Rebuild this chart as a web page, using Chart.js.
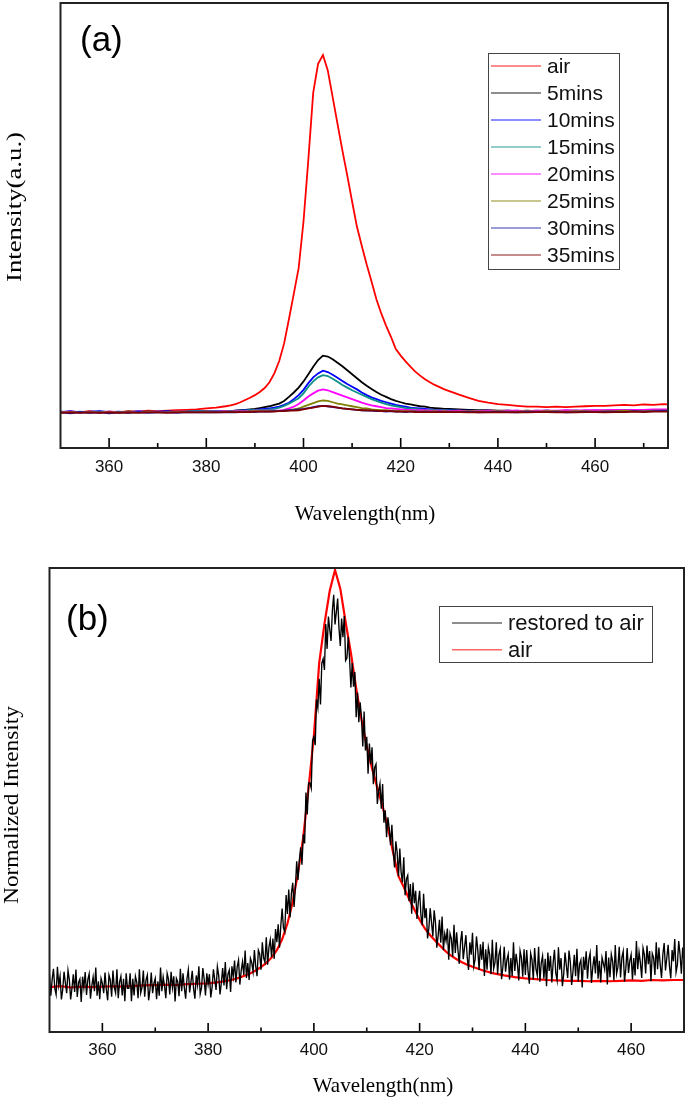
<!DOCTYPE html>
<html><head><meta charset="utf-8">
<script src="https://cdn.jsdelivr.net/npm/chart.js@4.4.1/dist/chart.umd.min.js"></script>
<style>
html,body{margin:0;padding:0;background:#fff;width:685px;height:1097px;overflow:hidden}
#wa{position:absolute;left:0;top:0;width:685px;height:540px}
#wb{position:absolute;left:0;top:540px;width:685px;height:557px}
canvas{display:block}
</style></head><body>
<div id="wa"><canvas id="ca" width="685" height="540"></canvas></div>
<div id="wb"><canvas id="cb" width="685" height="557"></canvas></div>
<script>
// ---------- Panel (a) data ----------
const wlA = [350,352,354,356,358,360,362,364,366,368,370,372,374,376,378,380,382,384,
 385,386,387,388,389,390,391,392,393,394,395,396,397,398,399,400,401,402,403,404,
 405,406,407,408,409,410,411,412,413,414,415,416,417,418,419,420,421,422,423,424,
 425,426,427,428,429,430,
 432,434,436,438,440,442,444,446,448,450,452,454,456,458,460,462,464,466,468,470,472,474,475];
const labelsA = ['air','5mins','10mins','15mins','20mins','25mins','30mins','35mins'];
const colorsA = ['#ff0000','#000000','#0000ff','#0b8f86','#ff00ff','#808000','#2020a0','#800000'];
const air = [8.2,8.0,8.1,8.3,8.0,8.2,8.1,8.3,8.2,8.4,8.3,8.4,8.5,8.6,8.7,8.9,9.1,9.4,
 9.6,9.9,10.3,10.8,11.3,11.9,12.6,13.5,14.8,16.8,
 19.6,23.5,29.0,34.7,40.5,51.0,65.0,80.0,86.5,88.5,
 85.0,79.0,73.0,67.0,61.4,55.5,49.8,45.5,41.3,37.5,
 33.5,30.3,27.5,25.0,22.3,20.8,19.5,18.3,17.2,16.3,
 15.5,14.8,14.2,13.7,13.2,12.8,
 12.0,11.3,10.6,10.2,9.9,9.7,9.5,9.3,9.3,9.2,9.3,9.2,9.3,9.4,9.5,9.5,9.6,9.7,9.6,9.8,9.7,9.9,9.8];
const m5 = [8.0,8.2,8.1,8.0,8.2,8.1,8.0,8.2,8.1,8.2,8.1,8.2,8.1,8.2,8.2,8.3,8.2,8.3,
 8.3,8.4,8.5,8.6,8.7,8.8,9.0,9.2,9.4,9.7,
 10.0,10.6,11.5,12.5,13.6,15.0,16.6,18.3,19.8,20.8,
 20.6,20.0,19.2,18.4,17.5,16.6,15.7,14.8,14.0,13.3,
 12.6,12.0,11.5,11.0,10.6,10.3,10.0,9.8,9.6,9.4,
 9.3,9.1,9.0,8.9,8.8,8.8,
 8.7,8.6,8.5,8.5,8.4,8.4,8.3,8.4,8.3,8.4,8.3,8.4,8.4,8.3,8.4,8.4,8.5,8.4,8.5,8.4,8.5,8.5,8.5];
const m10 = [8.1,8.3,8.0,8.2,8.3,8.1,8.2,8.0,8.3,8.1,8.2,8.3,8.1,8.2,8.3,8.2,8.3,8.3,
 8.3,8.4,8.4,8.5,8.5,8.6,8.7,8.8,8.9,9.1,
 9.3,9.7,10.2,11.0,11.9,13.1,14.6,15.9,16.8,17.4,
 17.1,16.5,15.8,15.1,14.4,13.8,13.2,12.5,11.9,11.4,
 11.0,10.6,10.3,10.0,9.7,9.5,9.3,9.1,9.0,8.9,
 8.8,8.7,8.6,8.6,8.5,8.5,
 8.4,8.4,8.3,8.4,8.2,8.3,8.4,8.2,8.3,8.4,8.3,8.2,8.4,8.3,8.4,8.3,8.4,8.5,8.3,8.4,8.5,8.6,8.6];
const m15 = [8.2,8.1,8.2,8.0,8.1,8.2,8.1,8.2,8.1,8.2,8.2,8.1,8.2,8.2,8.3,8.2,8.3,8.3,
 8.3,8.3,8.4,8.4,8.5,8.5,8.6,8.6,8.7,8.8,
 9.1,9.5,10.0,10.6,11.2,12.3,13.8,15.0,15.9,16.4,
 16.2,15.6,14.9,14.2,13.6,13.0,12.5,12.0,11.5,11.0,
 10.6,10.2,9.9,9.6,9.4,9.2,9.0,8.9,8.8,8.7,
 8.6,8.6,8.5,8.5,8.5,8.4,
 8.4,8.3,8.4,8.3,8.3,8.4,8.3,8.3,8.4,8.3,8.3,8.4,8.3,8.4,8.4,8.3,8.4,8.4,8.5,8.4,8.4,8.5,8.5];
const m20 = [8.1,8.2,8.1,8.1,8.0,8.2,8.1,8.1,8.2,8.1,8.2,8.1,8.2,8.2,8.1,8.2,8.2,8.3,
 8.2,8.3,8.3,8.3,8.3,8.4,8.4,8.4,8.4,8.4,
 8.4,8.6,8.9,9.3,9.9,10.7,11.6,12.3,12.9,13.2,
 13.0,12.6,12.2,11.8,11.4,11.0,10.6,10.2,9.9,9.6,
 9.4,9.2,9.0,8.9,8.8,8.7,8.6,8.6,8.5,8.5,
 8.5,8.4,8.4,8.4,8.4,8.3,
 8.4,8.3,8.3,8.4,8.3,8.4,8.4,8.3,8.4,8.4,8.4,8.5,8.4,8.5,8.5,8.5,8.6,8.5,8.6,8.6,8.7,8.7,8.7];
const m25 = [8.0,8.1,8.0,8.1,8.1,8.0,8.1,8.0,8.1,8.1,8.0,8.1,8.1,8.2,8.1,8.2,8.1,8.2,
 8.2,8.2,8.2,8.2,8.3,8.3,8.3,8.3,8.3,8.3,
 8.3,8.4,8.5,8.7,8.9,9.3,9.7,10.1,10.5,10.7,
 10.6,10.3,10.0,9.8,9.6,9.4,9.2,9.0,8.9,8.7,
 8.6,8.5,8.5,8.4,8.4,8.3,8.3,8.3,8.3,8.2,
 8.3,8.2,8.3,8.2,8.3,8.2,
 8.2,8.3,8.2,8.2,8.3,8.2,8.2,8.3,8.2,8.3,8.3,8.2,8.3,8.3,8.2,8.3,8.3,8.4,8.3,8.3,8.4,8.4,8.4];
const m30 = [8.0,7.8,8.1,7.9,8.0,7.8,8.0,7.9,8.1,7.9,8.0,8.0,7.9,8.1,8.0,8.0,8.1,8.0,
 8.1,8.0,8.1,8.1,8.2,8.1,8.2,8.2,8.2,8.3,
 8.3,8.4,8.5,8.6,8.7,8.8,9.0,9.2,9.4,9.5,
 9.4,9.2,9.1,8.9,8.8,8.7,8.6,8.5,8.4,8.4,
 8.3,8.3,8.2,8.3,8.2,8.2,8.1,8.2,8.2,8.1,
 8.2,8.1,8.1,8.2,8.1,8.1,
 8.1,8.2,8.0,8.1,8.2,8.1,8.0,8.2,8.1,8.1,8.2,8.0,8.1,8.2,8.1,8.2,8.2,8.1,8.3,8.2,8.3,8.4,8.3];
const m35 = [7.9,8.0,7.9,8.0,7.9,8.0,7.9,8.0,7.9,8.0,8.0,7.9,8.0,8.0,8.0,8.0,8.0,8.1,
 8.1,8.1,8.1,8.1,8.1,8.2,8.2,8.2,8.2,8.2,
 8.3,8.3,8.4,8.4,8.5,8.7,8.9,9.1,9.3,9.5,
 9.4,9.3,9.1,8.9,8.8,8.7,8.6,8.5,8.5,8.4,
 8.4,8.3,8.3,8.3,8.2,8.2,8.2,8.2,8.1,8.1,
 8.1,8.1,8.1,8.1,8.1,8.1,
 8.1,8.0,8.1,8.0,8.1,8.0,8.1,8.0,8.1,8.1,8.0,8.1,8.0,8.1,8.1,8.0,8.1,8.1,8.2,8.1,8.2,8.2,8.2];
const seriesA = [air,m5,m10,m15,m20,m25,m30,m35];
const xTicksA = [360,380,400,420,440,460];
const xMinorA = [370,390,410,430,450,470];

// ---------- Panel (b) data ----------
// "restored to air": readings every 0.25 nm from 350 to 470 nm (one nm per group of four)
const restoredStart = 350, restoredStep = 0.25;
const restored = [
 .027,-.026,.013,.039,  -.008,-.023,.044,-.001,  .021,-.035,-.011,.032,  .005,-.020,.035,.013,  -.035,-.008,.026,-.017,
 .037,-.029,.006,.014,  -.041,.020,-.007,.031,  -.024,.013,.027,-.033,  -.002,.019,-.015,.042,  -.026,.009,-.034,.016,
 .004,-.020,.030,-.011,  -.037,.024,.012,-.028,  .035,-.006,-.019,.038,  -.032,.007,.021,-.025,  .015,-.039,.028,-.008,
 -.008,.028,-.039,.015,  -.025,.021,.007,-.032,  .038,-.019,-.006,.035,  -.028,.012,.024,-.037,  -.011,.030,-.020,.004,
 .016,-.034,.009,-.026,  .042,-.015,.019,-.002,  -.032,.028,.014,-.023,  .032,-.006,.021,-.040,  .016,.008,-.027,.039,
 -.015,.028,-.006,-.033,  .015,.037,-.018,.007,  .034,-.009,-.033,.023,  .000,.045,-.022,-.007,  .041,.014,-.025,.028,
 .002,.026,-.030,-.006,  .038,.013,-.012,.044,  .023,-.023,.005,.041,  -.001,.055,-.010,.026,  .036,-.017,.045,.020,
 .059,.006,.044,.060,  .001,.034,.056,.024,  .083,.017,.053,.012,  .064,.054,.032,.084,  .045,.021,.084,.075,
 .037,.103,.065,.055,  .115,.049,.091,.109,  .067,.112,.063,.135,  .103,.146,.090,.144,  .184,.137,.128,.217,
 .171,.230,.163,.221,  .246,.188,.234,.298,  .253,.300,.332,.290,  .363,.341,.464,.411,  .487,.487,.474,.588,
 .598,.578,.688,.668,  .738,.676,.775,.786,  .759,.870,.810,.888,  .857,.829,.903,.940,  .869,.899,.931,.860,
 .817,.883,.838,.889,  .782,.788,.839,.786,  .717,.776,.719,.754,  .645,.705,.633,.681,  .645,.575,.659,.565,
 .598,.509,.582,.532,  .573,.484,.524,.532,  .436,.467,.485,.425,  .484,.391,.421,.356,  .404,.378,.337,.386,
 .325,.283,.346,.320,  .262,.329,.272,.247,  .308,.216,.255,.264,  .202,.243,.172,.247,  .197,.227,.159,.200,
 .227,.167,.144,.220,  .161,.185,.112,.137,  .185,.151,.117,.180,  .150,.090,.119,.157,  .102,.165,.084,.123,
 .106,.136,.061,.124,  .112,.068,.145,.077,  .127,.084,.051,.105,  .130,.062,.091,.120,  .067,.036,.103,.073,
 .126,.045,.062,.117,  .084,.036,.098,.061,  .104,.022,.086,.037,  .091,.073,.026,.109,  .039,.054,.103,.026,
 .073,.087,.014,.044,  .092,.032,.060,.074,  .013,.065,.022,.103,  .034,.075,.049,.011,  .082,.066,.020,.086,
 .024,.084,.034,.003,  .076,.061,.013,.089,  .039,.023,.092,.008,  .053,.070,.015,.063,  -.003,.078,.034,.070,
 .006,.053,.085,.029,  .011,.091,.037,.065,  -.003,.026,.078,.047,  .017,.083,.056,.000,  .032,.073,.021,.087,
 .008,.050,.060,-.006,  .068,.036,.081,.015,  .061,.077,.005,.043,  .069,.028,.096,.015,  .058,.006,.066,.052,
 .037,.082,.001,.066,  .019,.074,.057,.011,  .096,.027,.043,.092,  .018,.066,.081,.008,  .040,.089,.029,.058,
 .073,.013,.065,.023,  .106,.038,.079,.054,  .017,.089,.073,.028,  .095,.050,.082,.009,  .076,.066,.024,.103,
 .038,.090,.049,.017,  .074,.101,.035,.065,  .097,.045,.016,.084,  .057,.111,.031,.049,  .106,.074,.027,.090,
 .054];
const wlAir = [350,352,354,356,358,360,362,364,366,368,370,372,374,376,378,380,382,384,
 385,386,387,388,389,390,391,392,393,394,395,396,397,398,399,400,401,402,403,404,
 405,406,407,408,409,410,411,412,413,414,415,416,417,418,419,420,421,422,423,424,
 425,426,427,428,429,430,
 432,434,436,438,440,442,444,446,448,450,452,454,456,458,460,462,464,466,468,470];
const airNorm = [-.005,-.003,-.006,-.004,-.005,-.004,-.003,-.004,-.002,-.001,0,.001,0,.002,.003,.004,.007,.011,
 .014,.018,.023,.028,.035,.043,.053,.066,.084,.110,
 .148,.200,.270,.357,.475,.600,.775,.870,.950,1.0,
 .955,.875,.800,.715,.640,.575,.522,.475,.430,.380,
 .318,.262,.236,.208,.182,.157,.136,.120,.106,.093,
 .080,.070,.062,.055,.049,.044,
 .035,.028,.023,.019,.016,.014,.012,.011,.010,.010,.009,.010,.009,.010,.011,.010,.012,.011,.012,.012];
const labelsB = ['restored to air','air'];
const colorsB = ['#000000','#ff0000'];
const xTicksB = [360,380,400,420,440,460];
const xMinorB = [370,390,410,430,450];

// ---------- helpers ----------
const SANS = '"Liberation Sans", Arial, sans-serif';
const SERIF = '"Liberation Serif", "Times New Roman", serif';

const deco = {
  id: 'deco',
  afterDraw(chart, args, o) {
    const {ctx, chartArea: a} = chart;
    const x = chart.scales.x;
    ctx.save();
    ctx.strokeStyle = '#000';
    ctx.lineWidth = 1.6;
    const tick = (v, len) => {
      const px = x.getPixelForValue(v);
      ctx.beginPath(); ctx.moveTo(px, a.bottom); ctx.lineTo(px, a.bottom - len); ctx.stroke();
    };
    o.major.forEach(v => tick(v, o.majorLen));
    o.minor.forEach(v => tick(v, o.minorLen));
    ctx.lineWidth = 2;
    ctx.strokeStyle = '#222';
    ctx.strokeRect(a.left, a.top, a.right - a.left, a.bottom - a.top);
    // axis titles
    ctx.fillStyle = '#000';
    ctx.font = o.titleFont;
    ctx.textAlign = 'center';
    ctx.textBaseline = 'alphabetic';
    ctx.fillText(o.xTitle.text, o.xTitle.x, o.xTitle.y);
    ctx.save();
    ctx.font = o.yTitle.font;
    ctx.translate(o.yTitle.x, o.yTitle.y);
    ctx.rotate(-Math.PI / 2);
    const w = ctx.measureText(o.yTitle.text).width;
    ctx.scale(o.yTitle.len / w, 1);
    ctx.textBaseline = 'middle';
    ctx.fillText(o.yTitle.text, 0, 0);
    ctx.restore();
    // panel label
    ctx.font = o.panel.font;
    ctx.textAlign = 'left';
    ctx.textBaseline = 'alphabetic';
    ctx.fillText(o.panel.text, o.panel.x, o.panel.y);
    // legend
    const L = o.legend;
    ctx.fillStyle = '#fff';
    ctx.fillRect(L.left, L.top, L.right - L.left, L.bottom - L.top);
    ctx.strokeStyle = '#444';
    ctx.lineWidth = 1;
    ctx.strokeRect(L.left + 0.5, L.top + 0.5, L.right - L.left, L.bottom - L.top);
    ctx.font = L.font;
    ctx.textBaseline = 'middle';
    chart.data.datasets.forEach((ds, i) => {
      const yy = L.row0 + i * L.rowStep;
      ctx.strokeStyle = ds.borderColor;
      ctx.globalAlpha = 0.6;
      ctx.lineWidth = 1.4;
      ctx.beginPath(); ctx.moveTo(L.lineX0, yy); ctx.lineTo(L.lineX1, yy); ctx.stroke();
      ctx.globalAlpha = 1;
      ctx.fillStyle = '#111';
      ctx.fillText(ds.label, L.textX, yy + 1);
    });
    ctx.restore();
  }
};

function xScale(min, max, ticksArr, pad, axisH) {
  return {
    type: 'linear', min, max,
    grid: {display: false, drawTicks: false},
    border: {display: false},
    ticks: {color: '#111', font: {family: SANS, size: 17}, padding: pad, maxRotation: 0, autoSkip: false},
    afterBuildTicks: s => { s.ticks = ticksArr.map(v => ({value: v})); },
    afterFit: s => { s.height = axisH; }
  };
}

// ---------- Chart (a) ----------
new Chart(document.getElementById('ca'), {
  type: 'line',
  data: {
    datasets: seriesA.map((arr, i) => ({
      label: labelsA[i],
      data: wlA.map((w, k) => ({x: w, y: arr[k]})),
      borderColor: colorsA[i],
      borderWidth: 1.8,
      pointRadius: 0,
      tension: 0,
      order: seriesA.length - i
    }))
  },
  options: {
    responsive: false, animation: false, devicePixelRatio: 1,
    layout: {padding: {left: 60.5, right: 17, top: 3, bottom: 0}},
    scales: {
      x: xScale(350, 475, xTicksA, 9, 92),
      y: {type: 'linear', display: false, min: 0, max: 100.2}
    },
    plugins: {
      legend: {display: false}, tooltip: {enabled: false},
      deco: {
        major: xTicksA, minor: xMinorA, majorLen: 10, minorLen: 5,
        titleFont: '21px ' + SERIF,
        xTitle: {text: 'Wavelength(nm)', x: 365, y: 520},
        yTitle: {text: 'Intensity(a.u.)', x: 15, y: 207, len: 150, font: '22px ' + SERIF},
        panel: {text: '(a)', x: 80, y: 51, font: '35px ' + SANS},
        legend: {left: 488, right: 619, top: 53, bottom: 269, row0: 66, rowStep: 27,
                 lineX0: 491, lineX1: 541, textX: 547, font: '21px ' + SANS}
      }
    }
  },
  plugins: [deco]
});

// ---------- Chart (b) ----------
new Chart(document.getElementById('cb'), {
  type: 'line',
  data: {
    datasets: [
      {label: labelsB[0], data: restored.map((v, k) => ({x: restoredStart + k * restoredStep, y: v})),
       borderColor: colorsB[0], borderWidth: 1.35, pointRadius: 0, tension: 0},
      {label: labelsB[1], data: wlAir.map((w, k) => ({x: w, y: airNorm[k]})),
       borderColor: colorsB[1], borderWidth: 2.2, pointRadius: 0, tension: 0}
    ]
  },
  options: {
    responsive: false, animation: false, devicePixelRatio: 1,
    layout: {padding: {left: 49.5, right: 1, top: 28, bottom: 0}},
    scales: {
      x: xScale(350, 470, xTicksB, 8, 65),
      y: {type: 'linear', display: false, min: -0.1133, max: 1.0048}
    },
    plugins: {
      legend: {display: false}, tooltip: {enabled: false},
      deco: {
        major: xTicksB, minor: xMinorB, majorLen: 9, minorLen: 4.5,
        titleFont: '21px ' + SERIF,
        xTitle: {text: 'Wavelength(nm)', x: 383, y: 552},
        yTitle: {text: 'Normalized Intensity', x: 12, y: 265, len: 198, font: '22px ' + SERIF},
        panel: {text: '(b)', x: 66, y: 90, font: '35px ' + SANS},
        legend: {left: 439, right: 652, top: 66, bottom: 122, row0: 83, rowStep: 26.7,
                 lineX0: 452, lineX1: 502, textX: 508, font: '22px ' + SANS}
      }
    }
  },
  plugins: [deco]
});
</script>
</body></html>
